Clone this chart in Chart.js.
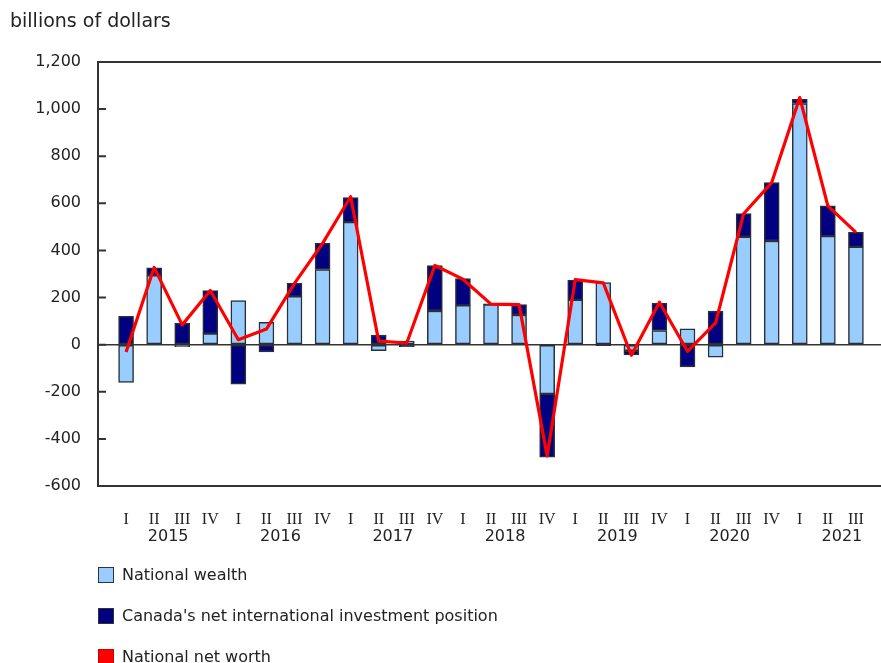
<!DOCTYPE html>
<html><head><meta charset="utf-8">
<script src="https://cdn.jsdelivr.net/npm/chart.js@4.4.1/dist/chart.umd.min.js"></script>
<style>
html,body{margin:0;padding:0;background:#fff;overflow:hidden;width:881px;height:663px}
#wrap{position:relative;width:881px;height:663px;overflow:hidden}
canvas{position:absolute;left:0;top:0}
#title{position:absolute;left:10px;top:9px;font-family:"DejaVu Sans",sans-serif;font-size:19px;color:#222;line-height:22px;white-space:nowrap}
#legend{position:absolute;left:98px;top:0}
.li{position:absolute;left:0;white-space:nowrap;font-family:"DejaVu Sans",sans-serif;font-size:16px;color:#222;line-height:20px;height:20px}
.sw{position:absolute;left:0;top:2px;width:14px;height:14px;border:1px solid #333}
.lt{position:absolute;left:24px;top:0}
</style></head><body>
<div id="wrap"><canvas id="c" width="900" height="663"></canvas>
<div id="title">billions of dollars</div>
<div id="legend"></div></div>
<script>
const quarters = ['I','II','III','IV','I','II','III','IV','I','II','III','IV','I','II','III','IV','I','II','III','IV','I','II','III','IV','I','II','III'];
const years = ['2015','2016','2017','2018','2019','2020','2021'];
const yTicks = [-600,-400,-200,0,200,400,600,800,1000,1200];
const nationalWealth = [-160,294,-8,47,187,95,205,319,520,-26,15,143,167,170,126,-209,190,264,-26,60,67,-53,458,440,1024,461,415];
const netIntlPosition = [120,32,92,183,-168,-31,55,111,104,41,-9,193,114,3,44,-269,84,-4,-17,115,-95,143,98,248,17,128,62];
const nationalNetWorth = [-31,328,84,230,21,66,260,430,628,15,7,336,278,172,170,-472,276,262,-45,180,-28,92,556,688,1049,589,477];

const pad = a => [null, ...a, null];
const labelsPadded = ['', ...quarters, ''];

const framePlugin = {
  id: 'frame',
  afterDatasetsDraw(chart) {
    const {ctx, chartArea: a} = chart;
    const y = chart.scales.y;
    ctx.save();
    ctx.strokeStyle = '#333';
    ctx.lineWidth = 2;
    ctx.beginPath();
    y.ticks.forEach(t => {
      const py = y.getPixelForValue(t.value);
      ctx.moveTo(a.left, py);
      ctx.lineTo(a.left + 8, py);
    });
    ctx.stroke();
    ctx.lineWidth = 2;
    ctx.strokeRect(a.left, a.top, a.right - a.left, a.bottom - a.top);
    ctx.restore();
  }
};
const yearPlugin = {
  id: 'years',
  afterDraw(chart) {
    const x = chart.scales.x, ctx = chart.ctx;
    ctx.save();
    ctx.font = '16px "DejaVu Sans", sans-serif';
    ctx.fillStyle = '#222';
    ctx.textAlign = 'center';
    ctx.textBaseline = 'middle';
    years.forEach((yr, k) => {
      const i = 1 + 4 * k;
      const px = (x.getPixelForValue(i + 1) + x.getPixelForValue(i + 2)) / 2;
      ctx.fillText(yr, px, x.top + 51);
    });
    ctx.restore();
  }
};

const chart = new Chart(document.getElementById('c'), {
  type: 'bar',
  data: {
    labels: labelsPadded,
    datasets: [
      {label: 'National wealth', data: pad(nationalWealth), backgroundColor: '#99ccff', borderColor: '#2a2f36', borderWidth: 1.5, borderSkipped: false, barThickness: 15, stack: 'bars', order: 1},
      {label: "Canada's net international investment position", data: pad(netIntlPosition), backgroundColor: '#000080', borderColor: '#2a2f36', borderWidth: 1.5, borderSkipped: false, barThickness: 15, stack: 'bars', order: 1},
      {type: 'line', label: 'National net worth', data: pad(nationalNetWorth), borderColor: '#ff0000', backgroundColor: '#ff0000', borderWidth: 3.2, pointRadius: 0, tension: 0, borderJoinStyle: 'round', borderCapStyle: 'butt', stack: 'line', order: 0}
    ]
  },
  options: {
    responsive: false,
    animation: false,
    layout: {padding: {top: 62, right: 16, left: 0, bottom: 0}},
    plugins: {legend: {display: false}, tooltip: {enabled: false}, title: {display: false}},
    scales: {
      x: {
        type: 'category', offset: false, stacked: true,
        grid: {display: false}, border: {display: false},
        ticks: {autoSkip: false, maxRotation: 0, minRotation: 0, padding: 16, color: '#222', font: {family: '"Liberation Serif", serif', size: 16}},
        afterFit(s) { s.height = 177; }
      },
      y: {
        stacked: true, min: -600, max: 1200,
        afterBuildTicks(s) { s.ticks = yTicks.map(v => ({value: v})); },
        ticks: {padding: 17, color: '#222', font: {family: '"DejaVu Sans", sans-serif', size: 16}, callback: v => Number(v).toLocaleString('en-US')},
        grid: {drawOnChartArea: true, drawTicks: false, color: c => (c.tick && c.tick.value === 0) ? '#333' : 'rgba(0,0,0,0)', lineWidth: 1.5},
        border: {display: false},
        afterFit(s) { s.width = 98; }
      }
    }
  },
  plugins: [framePlugin, yearPlugin]
});

// legend from datasets
const rowTops = [565, 606, 647];
const lg = document.getElementById('legend');
chart.data.datasets.forEach((ds, i) => {
  const row = document.createElement('div');
  row.className = 'li';
  row.style.top = rowTops[i] + 'px';
  const sw = document.createElement('div');
  sw.className = 'sw';
  sw.style.background = ds.backgroundColor;
  if (ds.type === 'line') sw.style.borderColor = '#cc0000';
  const t = document.createElement('div');
  t.className = 'lt';
  t.textContent = ds.label;
  row.appendChild(sw); row.appendChild(t);
  lg.appendChild(row);
});
</script>
</body></html>
